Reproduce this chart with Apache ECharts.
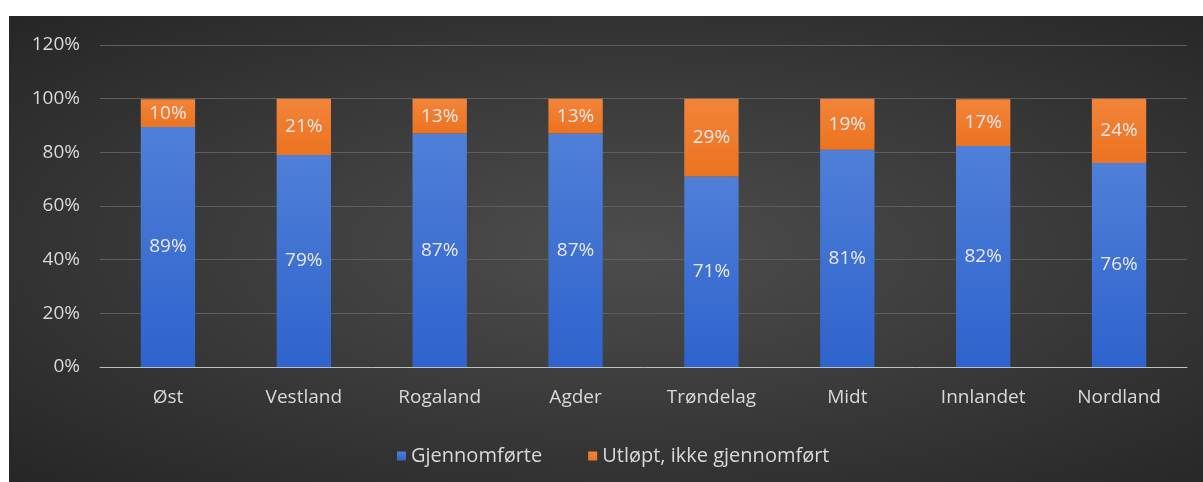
<!DOCTYPE html>
<html>
<head>
<meta charset="utf-8">
<script src="https://cdn.jsdelivr.net/npm/echarts@6/dist/echarts.min.js"></script>
<style>
  html, body { margin: 0; padding: 0; background: #fff; }
  #panel {
    position: absolute; left: 9px; top: 16px; width: 1194px; height: 466px;
    background: radial-gradient(ellipse at 52% 50%, #4d4d4d 0%, #3c3c3c 45%, #262626 100%);
  }
  #chart { width: 100%; height: 100%; }
</style>
</head>
<body>
<div id="panel"><div id="chart"></div></div>
<script>
const regions = ['Øst', 'Vestland', 'Rogaland', 'Agder', 'Trøndelag', 'Midt', 'Innlandet', 'Nordland']
// shares; labels show them rounded
const completed = [89.4, 79, 87, 87, 71, 81, 82.4, 76]
const expired = [10.4, 21, 13, 13, 29, 19, 17.4, 24]
const seriesNames = ['Gjennomførte', 'Utløpt, ikke gjennomført']

const font = '"Open Sans", "DejaVu Sans", sans-serif'
const textColor = '#d9d9d9'

const chart = echarts.init(document.getElementById('chart'))

const blue = new echarts.graphic.LinearGradient(0, 0, 0, 1, [
  { offset: 0, color: '#4f7fd8' },
  { offset: 1, color: '#2f63cd' }
])
const orange = new echarts.graphic.LinearGradient(0, 0, 0, 1, [
  { offset: 0, color: '#f2843a' },
  { offset: 1, color: '#ec7320' }
])

const label = {
  show: true,
  position: 'inside',
  color: '#e8e8e8',
  fontFamily: font,
  fontSize: 19,
  formatter: p => Math.round(p.value) + '%'
}

chart.setOption({
  backgroundColor: 'transparent',
  animation: false,
  grid: { left: 91, right: 16, top: 29, bottom: 115 },
  legend: {
    top: 425,
    left: 383,
    itemWidth: 9,
    itemHeight: 9,
    itemGap: 46,
    icon: 'rect',
    textStyle: { color: textColor, fontFamily: font, fontSize: 20 },
    data: seriesNames
  },
  xAxis: {
    type: 'category',
    data: regions,
    axisLine: { lineStyle: { color: '#bfbfbf', width: 1 } },
    axisTick: { show: false },
    axisLabel: { color: textColor, fontFamily: font, fontSize: 19, margin: 21 }
  },
  yAxis: {
    type: 'value',
    min: 0,
    max: 120,
    interval: 20,
    axisLine: { show: false },
    axisTick: { show: false },
    splitLine: { lineStyle: { color: '#5e5e5e', width: 1 } },
    axisLabel: { color: textColor, fontFamily: font, fontSize: 19, margin: 20, formatter: '{value}%' }
  },
  series: [
    {
      name: seriesNames[0],
      type: 'bar',
      stack: 'total',
      barWidth: '40%',
      data: completed,
      itemStyle: { color: blue },
      label: label
    },
    {
      name: seriesNames[1],
      type: 'bar',
      stack: 'total',
      barWidth: '40%',
      data: expired,
      itemStyle: { color: orange },
      label: label
    }
  ]
})
</script>
</body>
</html>
